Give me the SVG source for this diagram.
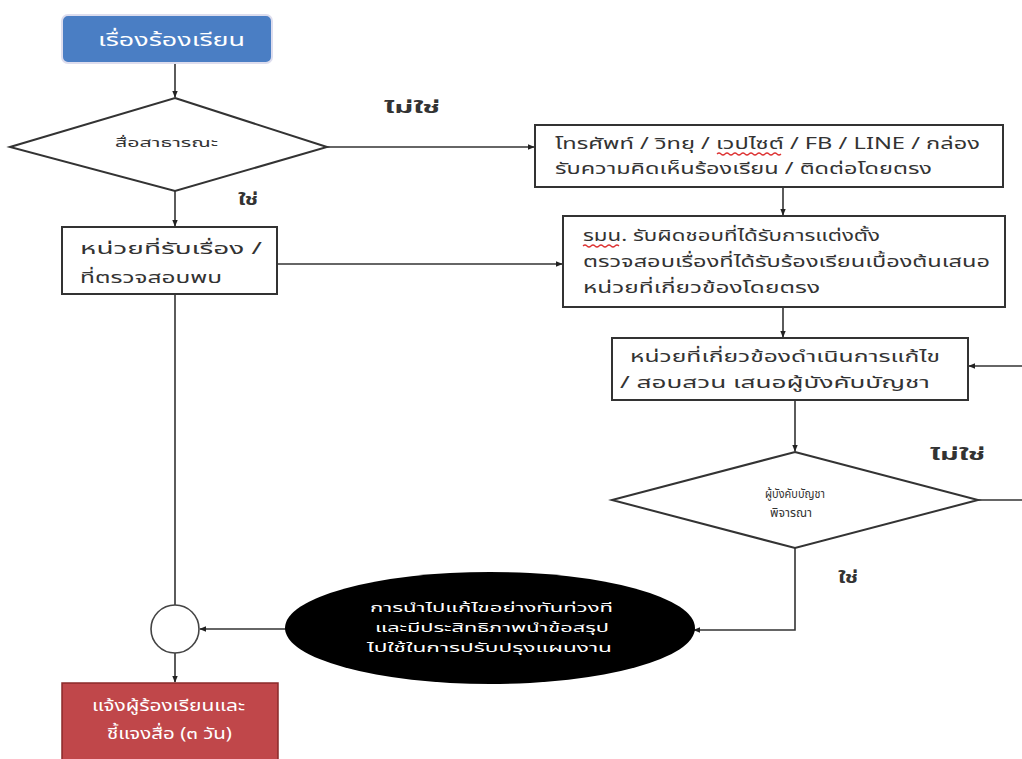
<svg xmlns="http://www.w3.org/2000/svg" width="1022" height="759" viewBox="0 0 1022 759">
<style>
text{font-family:"Noto Sans Thai","Noto Sans","Liberation Sans",sans-serif;fill:#333}
.box{fill:#fff;stroke:#333;stroke-width:2}
.t{font-size:16px}
.s{font-size:12px}
.w{fill:#fff}
.ln{fill:none;stroke:#333;stroke-width:1.6}
.sq{fill:none;stroke:#d33;stroke-width:1.2}
</style>
<defs>
<marker id="ar" viewBox="0 0 10 10" refX="9" refY="5" markerWidth="7" markerHeight="7" orient="auto" markerUnits="userSpaceOnUse">
<path d="M0,1 L10,5 L0,9 z" fill="#222"/>
</marker>
</defs>
<rect width="1022" height="759" fill="#fff"/>
<g id="connectors">
<line class="ln" x1="175" y1="64" x2="175" y2="97" marker-end="url(#ar)"/>
<line class="ln" x1="327" y1="147" x2="534" y2="147" marker-end="url(#ar)"/>
<line class="ln" x1="175" y1="191" x2="175" y2="226" marker-end="url(#ar)"/>
<line class="ln" x1="277" y1="264" x2="562" y2="264" marker-end="url(#ar)"/>
<line class="ln" x1="783" y1="188" x2="783" y2="215" marker-end="url(#ar)"/>
<line class="ln" x1="783" y1="308" x2="783" y2="337" marker-end="url(#ar)"/>
<line class="ln" x1="1022" y1="366" x2="969" y2="366" marker-end="url(#ar)"/>
<line class="ln" x1="795" y1="401" x2="795" y2="451" marker-end="url(#ar)"/>
<line class="ln" x1="978" y1="500" x2="1022" y2="500"/>
<polyline class="ln" points="795,548 795,630 694,630" marker-end="url(#ar)"/>
<line class="ln" x1="286" y1="629" x2="200" y2="629" marker-end="url(#ar)"/>
<line class="ln" x1="175" y1="295" x2="175" y2="605"/>
<line class="ln" x1="175" y1="653" x2="175" y2="682" marker-end="url(#ar)"/>
<text class="t" x="384" y="113" font-weight="bold" textLength="56" lengthAdjust="spacingAndGlyphs">ไม่ใช่</text>
<text class="t" x="238" y="205" font-weight="bold" textLength="20" lengthAdjust="spacingAndGlyphs">ใช่</text>
<text class="t" x="930" y="460" font-weight="bold" textLength="55" lengthAdjust="spacingAndGlyphs">ไม่ใช่</text>
<text class="t" x="838" y="583" font-weight="bold" textLength="20" lengthAdjust="spacingAndGlyphs">ใช่</text>
</g>
<g id="start">
<rect x="62" y="15" width="210" height="48" rx="6" fill="#4a7ec4" stroke="#dde" stroke-width="2"/>
<text class="w" x="98" y="46" font-size="18" textLength="147" lengthAdjust="spacingAndGlyphs">เรื่องร้องเรียน</text>
</g>
<g id="d1">
<polygon class="box" points="175,98 327,147 175,191 10,147" stroke-width="1.6"/>
<text class="s" x="115" y="147" textLength="103" lengthAdjust="spacingAndGlyphs">สื่อสาธารณะ</text>
</g>
<g id="b1">
<rect class="box" x="535" y="125" width="468" height="62"/>
<text class="t" x="555" y="149" textLength="425" lengthAdjust="spacingAndGlyphs">โทรศัพท์ / วิทยุ / เวปไซต์ / FB / LINE / กล่อง</text>
<text class="t" x="555" y="174" textLength="377" lengthAdjust="spacingAndGlyphs">รับความคิดเห็นร้องเรียน / ติดต่อโดยตรง</text>
<path class="sq" d="M717,154 q2,-2 4,0 t4,0 t4,0 t4,0 t4,0 t4,0 t4,0 t4,0 t4,0 t4,0 t4,0 t4,0 t4,0 t4,0 t4,0 t4,0"/>
</g>
<g id="b2">
<rect class="box" x="62" y="227" width="215" height="67"/>
<text class="t" x="80" y="254" textLength="182" lengthAdjust="spacingAndGlyphs">หน่วยที่รับเรื่อง /</text>
<text class="t" x="80" y="283" textLength="142" lengthAdjust="spacingAndGlyphs">ที่ตรวจสอบพบ</text>
</g>
<g id="b3">
<rect class="box" x="563" y="216" width="442" height="91"/>
<text class="t" x="583" y="241" textLength="297" lengthAdjust="spacingAndGlyphs">รมน. รับผิดชอบที่ได้รับการแต่งตั้ง</text>
<text class="t" x="583" y="267" textLength="407" lengthAdjust="spacingAndGlyphs">ตรวจสอบเรื่องที่ได้รับร้องเรียนเบื้องต้นเสนอ</text>
<text class="t" x="583" y="293" textLength="237" lengthAdjust="spacingAndGlyphs">หน่วยที่เกี่ยวข้องโดยตรง</text>
<path class="sq" d="M583,246 q2,-2 4,0 t4,0 t4,0 t4,0 t4,0 t4,0 t4,0 t4,0 t4,0"/>
</g>
<g id="b4">
<rect class="box" x="612" y="338" width="356" height="62"/>
<text class="t" x="630" y="362" textLength="310" lengthAdjust="spacingAndGlyphs">หน่วยที่เกี่ยวข้องดำเนินการแก้ไข</text>
<text class="t" x="620" y="388" textLength="310" lengthAdjust="spacingAndGlyphs">/ สอบสวน เสนอผู้บังคับบัญชา</text>
</g>
<g id="d2">
<polygon class="box" points="795,452 978,500 795,548 612,500" stroke-width="1.6"/>
<text class="s" x="765" y="498" textLength="60" lengthAdjust="spacingAndGlyphs">ผู้บังคับบัญชา</text>
<text class="s" x="770" y="517" textLength="42" lengthAdjust="spacingAndGlyphs">พิจารณา</text>
</g>
<g id="e1">
<ellipse cx="490" cy="628" rx="205" ry="56" fill="#000"/>
<text class="s w" x="370" y="612" textLength="243" lengthAdjust="spacingAndGlyphs">การนำไปแก้ไขอย่างทันท่วงที</text>
<text class="s w" x="375" y="632" textLength="234" lengthAdjust="spacingAndGlyphs">และมีประสิทธิภาพนำข้อสรุป</text>
<text class="s w" x="367" y="652" textLength="245" lengthAdjust="spacingAndGlyphs">ไปใช้ในการปรับปรุงแผนงาน</text>
</g>
<g id="c1">
<circle cx="175" cy="629" r="24" fill="#fff" stroke="#444" stroke-width="1.6"/>
</g>
<g id="end">
<rect x="62" y="683" width="216" height="80" fill="#c0474a" stroke="#8a2a2a" stroke-width="1.5"/>
<text class="t w" x="92" y="711" textLength="153" lengthAdjust="spacingAndGlyphs">แจ้งผู้ร้องเรียนและ</text>
<text class="t w" x="107" y="739" textLength="125" lengthAdjust="spacingAndGlyphs">ชี้แจงสื่อ (๓ วัน)</text>
</g>
</svg>
